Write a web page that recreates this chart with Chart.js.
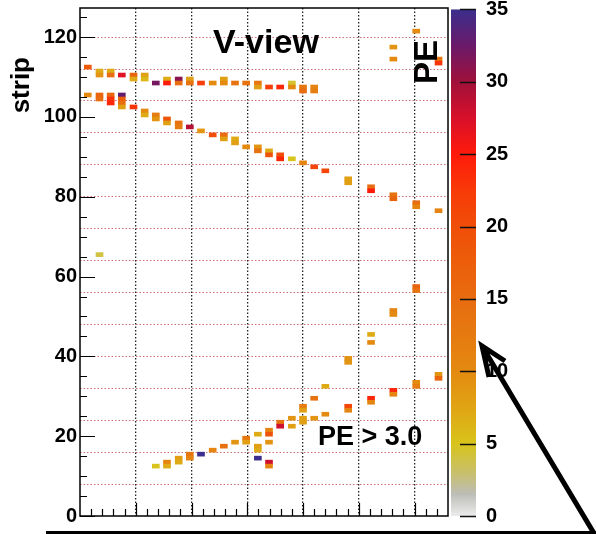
<!DOCTYPE html>
<html>
<head>
<meta charset="utf-8">
<title>V-view</title>
<script src="https://cdn.jsdelivr.net/npm/chart.js@4.4.1/dist/chart.umd.min.js"></script>
<style>
  html, body { margin: 0; padding: 0; background: #fff; }
</style>
</head>
<body>
<canvas id="evd" width="596" height="534"></canvas>
<script>
// hits: [plane, strip, PE]
const topTrack = [
    [1.4, 112, 18],
    [3.5, 111, 7], [3.5, 110, 9],
    [5.5, 111, 7], [5.5, 110, 15],
    [7.5, 110, 27],
    [9.6, 110, 16], [9.6, 109, 7],
    [11.6, 110, 8], [11.6, 109, 6],
    [13.6, 108, 32],
    [15.6, 109, 7], [15.6, 108, 25],
    [17.7, 109, 31], [17.7, 108, 15],
    [19.7, 109, 8], [19.7, 108, 14],
    [21.7, 108, 22],
    [23.8, 108, 10],
    [25.8, 109, 8], [25.8, 108, 10],
    [27.8, 108, 14],
    [29.8, 108, 14],
    [31.9, 108, 13], [31.9, 107, 8],
    [33.9, 107, 22],
    [35.9, 107, 24],
    [38.0, 108, 4.5], [38.0, 107, 10],
    [40.0, 107, 13], [40.0, 106, 15],
    [42.0, 107, 11], [42.0, 106, 12]
];

const diagTrack = [
    [1.4, 105, 10],
    [3.5, 105, 16], [3.5, 104, 15],
    [5.5, 105, 16], [5.5, 104, 23], [5.5, 103, 24],
    [7.5, 105, 33], [7.5, 104, 17], [7.5, 103, 15], [7.5, 102, 8],
    [9.6, 102, 23],
    [11.6, 101, 10], [11.6, 100, 7],
    [13.6, 100, 12], [13.6, 99, 9],
    [15.6, 99, 19], [15.6, 98, 8],
    [17.7, 98, 14], [17.7, 97, 12],
    [19.7, 97, 29],
    [21.7, 96, 9],
    [23.8, 95, 20],
    [25.8, 95, 15], [25.8, 94, 8],
    [27.8, 94, 7], [27.8, 93, 8],
    [29.8, 92, 10],
    [31.9, 92, 9], [31.9, 91, 14],
    [33.9, 91, 7], [33.9, 90, 19],
    [35.9, 90, 20], [35.9, 89, 24],
    [38.0, 89, 5],
    [40.0, 88, 11],
    [42.0, 87, 21],
    [44.0, 86, 21],
    [48.1, 84, 8], [48.1, 83, 8],
    [52.2, 82, 15], [52.2, 81, 25],
    [56.2, 80, 14], [56.2, 79, 16],
    [60.3, 78, 15], [60.3, 77, 11],
    [64.3, 76, 11]
];

const steepTrack = [
    [56.2, 117, 9], [56.2, 114, 10],
    [60.3, 121, 10],
    [64.3, 114, 13], [64.3, 113, 23]
];

const lowTrack = [
    [13.6, 12, 5],
    [15.6, 13, 11], [15.6, 12, 7],
    [17.7, 14, 8], [17.7, 13, 7],
    [19.7, 15, 13], [19.7, 14, 11],
    [21.7, 15, 35],
    [23.8, 16, 11],
    [25.8, 17, 14],
    [27.8, 18, 9],
    [29.8, 19, 13], [29.8, 18, 8],
    [31.9, 20, 7], [31.9, 17, 8], [31.9, 16, 7], [31.9, 14, 35],
    [33.9, 21, 11], [33.9, 20, 19], [33.9, 18, 9], [33.9, 13, 28], [33.9, 12, 11],
    [35.9, 23, 14], [35.9, 22, 28],
    [38.0, 24, 9], [38.0, 22, 8],
    [40.0, 27, 12], [40.0, 26, 8], [40.0, 24, 8], [40.0, 23, 8],
    [42.0, 29, 14], [42.0, 24, 9],
    [44.0, 32, 7], [44.0, 25, 10],
    [48.1, 39, 9], [48.1, 38, 9],
    [48.1, 27, 21], [48.1, 26, 11],
    [52.2, 45, 7], [52.2, 43, 10],
    [52.2, 29, 24], [52.2, 28, 11],
    [56.2, 51, 11], [56.2, 50, 10],
    [56.2, 31, 24], [56.2, 30, 11],
    [60.3, 57, 16], [60.3, 56, 14],
    [60.3, 33, 10], [60.3, 32, 12],
    [64.3, 35, 9], [64.3, 34, 16]
];

const strayHits = [
    [3.5, 65, 4]
];

// colour scale (PE)
const peTicks = [0, 5, 10, 15, 20, 25, 30, 35];
const peStops = [0, 1.5, 3, 5, 7.5, 10, 12.5, 15, 17.5, 20, 22.5, 25, 27.5, 30, 32.5, 35];
const peColors = ['#ececec', '#bdbdb8', '#c8bf6a', '#d8c41a', '#e0a414', '#e48a10', '#e67a10', '#e86c10',
                  '#ec5e0a', '#f04e08', '#f83a08', '#ff1a0a', '#d8102a', '#a0103a', '#6a1a6a', '#3b2e8c'];

const FONT = "'Liberation Sans', Arial, Helvetica, sans-serif";

function hexToRgb(h) {
    return [parseInt(h.substr(1, 2), 16), parseInt(h.substr(3, 2), 16), parseInt(h.substr(5, 2), 16)];
}

// Map a PE value onto the palette
function peColor(v) {
    if (v <= peStops[0]) return peColors[0];
    for (let i = 1; i < peStops.length; i++) {
        if (v <= peStops[i]) {
            const t = (v - peStops[i - 1]) / (peStops[i] - peStops[i - 1]);
            const a = hexToRgb(peColors[i - 1]);
            const b = hexToRgb(peColors[i]);
            const c = a.map((ch, k) => Math.round(ch + (b[k] - ch) * t));
            return 'rgb(' + c.join(',') + ')';
        }
    }
    return peColors[peColors.length - 1];
}

const hits = [topTrack, diagTrack, steepTrack, lowTrack, strayHits].flat();

// keep the plot box fixed: no extra room for half-height labels
function pinVertical(width) {
    return s => {
        s.width = width;
        s.paddingTop = 0;
        s.paddingBottom = 0;
    };
}

// ROOT-like decorations: inward ticks, frame, colour bar, labels
const rootDecor = {
    id: 'rootDecor',
    afterDatasetsDraw(chart) {
        const { ctx, chartArea: a, scales: { x, y } } = chart;
        ctx.save();
        ctx.strokeStyle = '#000';
        ctx.lineWidth = 1.2;
        ctx.beginPath();
        for (let v = 0; v <= 125; v += 5) {
            const py = Math.round(y.getPixelForValue(v)) + 0.5;
            const len = v % 20 === 0 ? 15 : 7;
            ctx.moveTo(a.left, py);
            ctx.lineTo(a.left + len, py);
        }
        for (let v = 2; v < 66; v += 2) {
            const px = Math.round(x.getPixelForValue(v)) + 0.5;
            const len = v % 10 === 0 ? 13 : 7;
            ctx.moveTo(px, a.bottom);
            ctx.lineTo(px, a.bottom - len);
        }
        ctx.stroke();

        // frame
        ctx.lineWidth = 1.5;
        ctx.strokeRect(a.left, a.top, a.right - a.left, a.bottom - a.top);
        ctx.restore();
    },
    afterDraw(chart) {
        const { ctx, scales: { pe } } = chart;
        ctx.save();

        // colour bar
        const y0 = pe.getPixelForValue(0);
        const y1 = pe.getPixelForValue(35);
        const grad = ctx.createLinearGradient(0, y0, 0, y1);
        peStops.forEach((s, i) => grad.addColorStop(s / 35, peColors[i]));
        ctx.fillStyle = grad;
        ctx.fillRect(451, y1, 25, y0 - y1);
        ctx.strokeStyle = '#111';
        ctx.lineWidth = 1.5;
        ctx.beginPath();
        peTicks.forEach(v => {
            const py = Math.round(pe.getPixelForValue(v)) + 0.5;
            ctx.moveTo(460, py);
            ctx.lineTo(476, py);
        });
        ctx.stroke();

        ctx.fillStyle = '#000';
        ctx.font = 'bold 34px ' + FONT;
        ctx.textAlign = 'left';
        ctx.textBaseline = 'alphabetic';
        ctx.fillText('V-view', 213, 53);

        ctx.font = 'bold 27px ' + FONT;
        ctx.fillText('PE > 3.0', 318, 445);

        // rotated axis titles
        ctx.save();
        ctx.translate(29, 57);
        ctx.rotate(-Math.PI / 2);
        ctx.font = 'bold 26px ' + FONT;
        ctx.textAlign = 'right';
        ctx.fillText('strip', 0, 0);
        ctx.restore();

        ctx.save();
        ctx.translate(437, 40);
        ctx.rotate(-Math.PI / 2);
        ctx.font = 'bold 33px ' + FONT;
        ctx.textAlign = 'right';
        ctx.fillText('PE', 0, 0);
        ctx.restore();

        // slide annotation: bar along the bottom and the arrow
        ctx.fillStyle = '#000';
        ctx.fillRect(46, 531, 550, 3);
        ctx.strokeStyle = '#000';
        ctx.lineWidth = 5;
        ctx.lineJoin = 'miter';
        ctx.beginPath();
        ctx.moveTo(598, 540);
        ctx.lineTo(482, 346);
        ctx.moveTo(505, 361);
        ctx.lineTo(482, 346);
        ctx.lineTo(489, 377);
        ctx.stroke();

        ctx.restore();
    }
};

const ctx = document.getElementById('evd').getContext('2d');

new Chart(ctx, {
    type: 'bar',
    data: {
        datasets: [{
            data: hits.map(h => ({ x: h[0], y: [h[1], h[1] + 1] })),
            backgroundColor: hits.map(h => peColor(h[2])),
            borderWidth: 0,
            barThickness: 7
        }]
    },
    options: {
        responsive: false,
        animation: false,
        events: [],
        layout: { padding: { top: 8, left: 0, right: 0, bottom: 0 } },
        plugins: {
            legend: { display: false },
            tooltip: { enabled: false }
        },
        scales: {
            x: {
                type: 'linear',
                min: 0,
                max: 66,
                offset: false,
                ticks: { display: false, stepSize: 2, autoSkip: false },
                grid: {
                    offset: false,
                    drawTicks: false,
                    lineWidth: 1.3,
                    color: c => (c.tick && c.tick.value % 10 === 0 && c.tick.value > 0 && c.tick.value < 66) ? '#222' : 'rgba(0,0,0,0)'
                },
                border: { display: false, dash: [1.5, 2] },
                afterFit: s => { s.height = 18; s.paddingLeft = 0; s.paddingRight = 0; }
            },
            y: {
                type: 'linear',
                min: 0,
                max: 127.3,
                ticks: {
                    stepSize: 4,
                    autoSkip: false,
                    includeBounds: false,
                    padding: 3,
                    color: '#000',
                    font: { family: FONT, size: 20, weight: 'bold' },
                    callback: v => (v % 20 === 0 ? v : '')
                },
                grid: {
                    drawTicks: false,
                    lineWidth: 1,
                    color: c => (c.tick && c.tick.value % 8 === 0 && c.tick.value > 0) ? 'rgba(190,60,70,0.75)' : 'rgba(0,0,0,0)'
                },
                border: { display: false, dash: [1.5, 2] },
                afterFit: pinVertical(80)
            },
            pe: {
                type: 'linear',
                position: 'right',
                min: 0,
                max: 35.1,
                afterBuildTicks: s => { s.ticks = peTicks.map(v => ({ value: v })); },
                ticks: {
                    padding: 30,
                    color: '#000',
                    font: { family: FONT, size: 20, weight: 'bold' }
                },
                grid: { display: false },
                border: { display: false },
                afterFit: pinVertical(148)
            }
        }
    },
    plugins: [rootDecor]
});
</script>
</body>
</html>
